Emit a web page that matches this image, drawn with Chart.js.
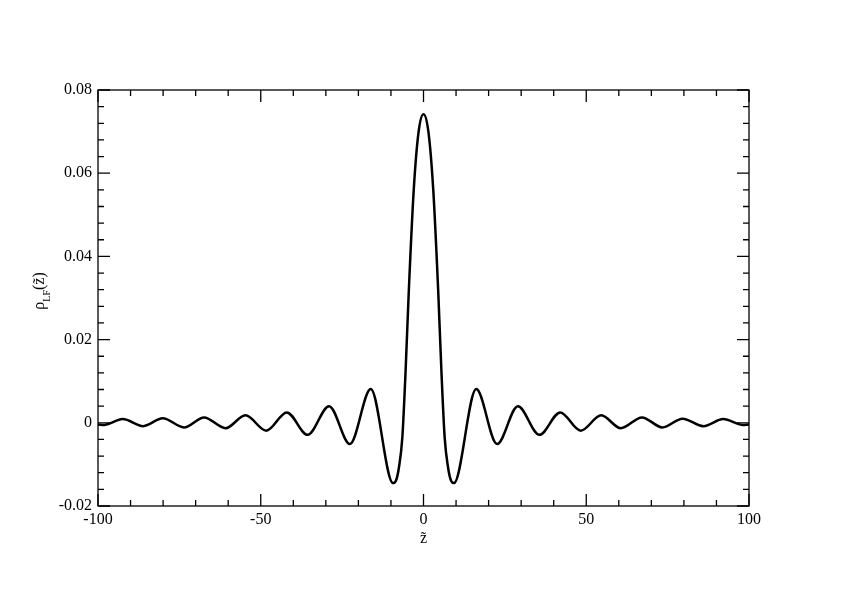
<!DOCTYPE html>
<html>
<head>
<meta charset="utf-8">
<script src="https://cdn.jsdelivr.net/npm/chart.js@4.4.0/dist/chart.umd.min.js"></script>
<style>
    html, body { margin: 0; padding: 0; background: #fff; }
    #wrap { width: 842px; height: 595px; position: relative; }
</style>
</head>
<body>
<div id="wrap"><canvas id="rhoChart"></canvas></div>
<script>
// Curve (extrema + a few points on the main lobe)
const zValues = [
    -100, -98.0, -92.4, -86.1, -80.1, -73.6, -67.4, -60.8, -54.7, -48.3,
    -42.0, -35.6, -29.0, -22.6, -16.2, -9.35, -8.5, -7.5, -6.5, -5.5,
    -4.5, -3.0, -1.5, 0,
    1.5, 3.0, 4.5, 5.5, 6.5, 7.5, 8.5, 9.35, 16.2, 22.6,
    29.0, 35.6, 42.0, 48.3, 54.6, 60.6, 67.1, 73.4, 79.6, 86.0,
    92.1, 98.0, 100
];
const rhoValues = [
    -0.0004, -0.0005, 0.0009, -0.0008, 0.0011, -0.0011, 0.0013, -0.0013, 0.0018, -0.0019,
    0.0025, -0.0029, 0.0040, -0.0051, 0.0081, -0.0145, -0.0140, -0.0105, -0.0035, 0.0125,
    0.0320, 0.0560, 0.0700, 0.0742,
    0.0700, 0.0560, 0.0320, 0.0125, -0.0035, -0.0105, -0.0140, -0.0145, 0.0081, -0.0051,
    0.0040, -0.0029, 0.0025, -0.0019, 0.0018, -0.0013, 0.0013, -0.0011, 0.0010, -0.0008,
    0.0009, -0.0005, -0.0004
];

// Axis ticks
const xTicks = [-100, -50, 0, 50, 100];
const xMinorStep = 10;
const yTicks = [-0.02, 0, 0.02, 0.04, 0.06, 0.08];
const yMinorStep = 0.004;

const points = zValues.map((z, i) => ({ x: z, y: rhoValues[i] }));

Chart.defaults.font.family = "'Liberation Serif', 'DejaVu Serif', serif";
Chart.defaults.font.size = 16;
Chart.defaults.color = '#000';

// Frame with inward ticks on all four sides, plus the y title with subscript
const framePlugin = {
    id: 'frame',
    afterDraw(chart) {
        const ctx = chart.ctx;
        const a = chart.chartArea;
        const xs = chart.scales.x;
        const ys = chart.scales.y;
        ctx.save();
        ctx.strokeStyle = '#000';
        ctx.lineWidth = 1.3;
        ctx.strokeRect(a.left, a.top, a.right - a.left, a.bottom - a.top);

        ctx.beginPath();
        for (let v = xTicks[0]; v <= xTicks[xTicks.length - 1] + 1e-9; v += xMinorStep) {
            const px = xs.getPixelForValue(v);
            const len = xTicks.some(t => Math.abs(t - v) < 1e-6) ? 12 : 6;
            ctx.moveTo(px, a.bottom); ctx.lineTo(px, a.bottom - len);
            ctx.moveTo(px, a.top); ctx.lineTo(px, a.top + len);
        }
        const nY = Math.round((yTicks[yTicks.length - 1] - yTicks[0]) / yMinorStep);
        for (let i = 0; i <= nY; i++) {
            const v = yTicks[0] + i * yMinorStep;
            const py = ys.getPixelForValue(v);
            const len = yTicks.some(t => Math.abs(t - v) < 1e-6) ? 12 : 6;
            ctx.moveTo(a.left, py); ctx.lineTo(a.left + len, py);
            ctx.moveTo(a.right, py); ctx.lineTo(a.right - len, py);
        }
        ctx.stroke();

        // y axis title: rho_LF(z~)
        const big = "16px 'Liberation Serif', serif";
        const small = "10px 'Liberation Serif', serif";
        ctx.fillStyle = '#000';
        ctx.translate(44, 291);
        ctx.rotate(-Math.PI / 2);
        ctx.textBaseline = 'alphabetic';
        ctx.textAlign = 'left';
        ctx.font = big;
        const w1 = ctx.measureText('\u03C1').width;
        const w3 = ctx.measureText('(z\u0303)').width;
        ctx.font = small;
        const w2 = ctx.measureText('LF').width;
        let x0 = -(w1 + w2 + w3) / 2;
        ctx.font = big;
        ctx.fillText('\u03C1', x0, 0);
        ctx.font = small;
        ctx.fillText('LF', x0 + w1, 6);
        ctx.font = big;
        ctx.fillText('(z\u0303)', x0 + w1 + w2, 0);
        ctx.restore();
    }
};

new Chart(document.getElementById('rhoChart'), {
    type: 'line',
    data: {
        datasets: [{
            data: points,
            borderColor: '#000',
            borderWidth: 2.5,
            pointRadius: 0,
            cubicInterpolationMode: 'monotone',
            fill: false
        }]
    },
    options: {
        responsive: true,
        maintainAspectRatio: false,
        animation: false,
        layout: { padding: { left: 0, top: 90, right: 93, bottom: 39 } },
        plugins: {
            legend: { display: false },
            tooltip: { enabled: false }
        },
        scales: {
            x: {
                type: 'linear',
                min: -100,
                max: 100,
                grid: { display: false, drawTicks: false },
                border: { display: false },
                afterBuildTicks: (s) => { s.ticks = xTicks.map(v => ({ value: v })); },
                afterFit: (s) => { s.height = 50; },
                ticks: {
                    padding: 4,
                    maxRotation: 0,
                    callback: (v) => String(v)
                },
                title: {
                    display: true,
                    text: 'z\u0303',
                    padding: { top: 0, bottom: 8 }
                }
            },
            y: {
                min: -0.02,
                max: 0.08,
                grid: { display: false, drawTicks: false },
                border: { display: false },
                afterBuildTicks: (s) => { s.ticks = yTicks.map(v => ({ value: v })); },
                afterFit: (s) => { s.width = 98; },
                ticks: {
                    padding: 6,
                    callback: (v) => String(+v.toFixed(3))
                }
            }
        }
    },
    plugins: [framePlugin]
});
</script>
</body>
</html>
